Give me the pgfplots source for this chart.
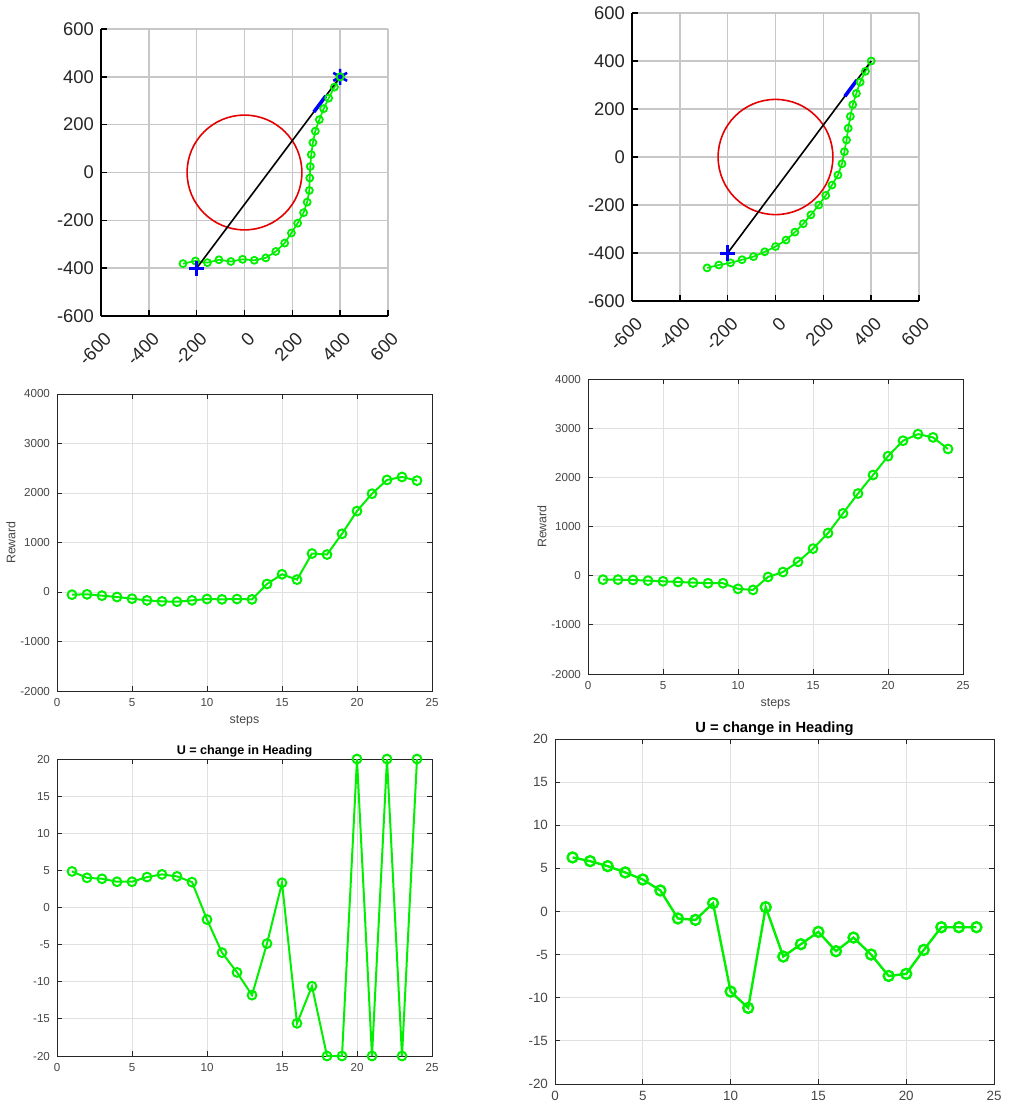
\documentclass[border=0pt]{standalone}
\usepackage{fontspec}
\setmainfont{Liberation Sans}
\usepackage{pgfplots}
\pgfplotsset{compat=1.18}
\definecolor{mgreen}{RGB}{0,240,0}
\definecolor{mblue}{RGB}{0,0,255}
\definecolor{mred}{RGB}{228,0,0}
\definecolor{mtxt}{RGB}{38,38,38}
\definecolor{mtxt2}{RGB}{70,70,70}

\pgfplotsset{
 trajax/.style={
  scale only axis, width=143.5pt, height=143.5pt,
  xmin=-600, xmax=600, ymin=-600, ymax=600,
  xtick={-600,-400,...,600}, ytick={-600,-400,...,600},
  axis x line*=bottom, axis y line*=left,
  axis line style={-, black, line width=1.2pt},
  grid=major, major grid style={black!22, line width=0.7pt},
  tick align=inside, major tick length=3pt,
  major tick style={black, line width=0.8pt},
  ticklabel style={font=\fontsize{9.2}{10}\selectfont, text=mtxt},
  xticklabel style={xshift=6pt, yshift=-7.5pt, rotate=45, anchor=east},
  /pgf/number format/assume math mode=true,
 },
 trajline/.style={mgreen, line width=0.85pt, mark=o, mark size=1.75pt, mark options={line width=0.9pt}},
 stepax/.style={
  scale only axis, xmin=0, xmax=25, xtick={0,5,...,25},
  grid=major, major grid style={black!12, line width=0.4pt},
  axis line style={mtxt, line width=0.45pt},
  tick align=inside, major tick length=2.5pt,
  major tick style={mtxt, line width=0.45pt},
  ticklabel style={text=mtxt2},
  /pgf/number format/assume math mode=true,
  /pgf/number format/1000 sep={}, scaled ticks=false,
  every axis title shift=0pt,
  every axis y label/.style={at={(axis description cs:-0.1227,0.5)}, rotate=90, anchor=center, font=\fontsize{6.2}{7}\selectfont, text=mtxt2},
  every axis x label/.style={at={(axis description cs:0.5,-0.1)}, anchor=center, font=\fontsize{6.2}{7}\selectfont, text=mtxt2},
 },
 smallax/.style={width=187.5pt, height=148.5pt,
  ticklabel style={font=\fontsize{5.8}{6.5}\selectfont}},
 stepline/.style={mgreen, line width=1pt, mark=o, mark size=2.2pt, mark options={line width=1pt}},
}

\begin{document}
\begin{tikzpicture}
\useasboundingbox (0,0) rectangle (504pt,-556pt);

% ---------- Panel 1: trajectory (left)
\begin{axis}[trajax, at={(50.5pt,-158pt)}, anchor=south west]
\draw[mred, line width=0.8pt] (axis cs:0,0) circle[radius=240];
\addplot[trajline] coordinates {
(-257,-381) (-205,-370) (-155,-377) (-107,-365) (-57,-372) (-8,-363) (41,-367) (89,-357)
(131,-330) (168,-295) (196,-253) (222,-212) (247,-168) (262,-124) (271,-75) (273,-23)
(275,25) (279,75) (286,125) (296,173) (313,221) (331,267) (352,311) (376,357) (400,400)};
\addplot[black, line width=0.8pt] coordinates {(-200,-400) (400,400)};
\addplot[mblue, line width=1.8pt] coordinates {(290,253) (340,320)};
\addplot[mblue, only marks, mark=+, mark size=3.8pt, mark options={line width=1.5pt}] coordinates {(-200,-400)};
\addplot[mblue, only marks, mark=asterisk, mark size=4pt, mark options={line width=1.3pt}] coordinates {(400,400)};
\addplot[mgreen, only marks, mark=o, mark size=1.75pt, mark options={line width=0.9pt}] coordinates {(400,400)};
\end{axis}

% ---------- Panel 2: trajectory (right)
\begin{axis}[trajax, at={(316pt,-150.5pt)}, anchor=south west, height=144pt]
\draw[mred, line width=0.8pt] (axis cs:0,0) circle[radius=240];
\addplot[trajline] coordinates {
(-286,-462) (-237,-450) (-188,-441) (-140,-428) (-92,-415) (-45,-395) (0,-373) (44,-346)
(81,-313) (116,-278) (148,-241) (181,-200) (210,-160) (236,-117) (261,-75) (278,-28)
(288,22) (297,71) (304,120) (313,169) (323,218) (338,265) (354,312) (376,357) (400,400)};
\addplot[black, line width=0.8pt] coordinates {(-200,-400) (400,400)};
\addplot[mblue, line width=1.8pt] coordinates {(290,253) (340,320)};
\addplot[mblue, only marks, mark=+, mark size=3.8pt, mark options={line width=1.5pt}] coordinates {(-200,-400)};
\end{axis}

% ---------- Panel 3: reward (left)
\begin{axis}[stepax, smallax, at={(28.5pt,-345.5pt)}, anchor=south west,
  ymin=-2000, ymax=4000, ytick={-2000,-1000,...,4000}, xlabel={steps}, ylabel={Reward}]
\addplot[stepline] coordinates {
(1,-54) (2,-47) (3,-74) (4,-101) (5,-135) (6,-169) (7,-189) (8,-196) (9,-169) (10,-142)
(11,-149) (12,-142) (13,-149) (14,162) (15,358) (16,250) (17,777) (18,757) (19,1176)
(20,1635) (21,1986) (22,2264) (23,2324) (24,2250)};
\end{axis}

% ---------- Panel 4: reward (right)
\begin{axis}[stepax, smallax, at={(294pt,-337pt)}, anchor=south west, height=147.5pt,
  ymin=-2000, ymax=4000, ytick={-2000,-1000,...,4000}, xlabel={steps}, ylabel={Reward}]
\addplot[stepline] coordinates {
(1,-81) (2,-81) (3,-87) (4,-101) (5,-114) (6,-128) (7,-141) (8,-154) (9,-154) (10,-268)
(11,-289) (12,-27) (13,74) (14,282) (15,550) (16,866) (17,1268) (18,1671) (19,2047)
(20,2430) (21,2745) (22,2879) (23,2812) (24,2577)};
\end{axis}

% ---------- Panel 5: U (left)
\begin{axis}[stepax, smallax, at={(28.5pt,-528pt)}, anchor=south west,
  ymin=-20, ymax=20, ytick={-20,-15,...,20},
  title={\textbf{U = change in Heading}},
  title style={font=\fontsize{6.3}{7}\selectfont, text=black, at={(axis description cs:0.5,1)}, anchor=center, yshift=4pt}]
\addplot[stepline] coordinates {
(1,4.86) (2,4.0) (3,3.87) (4,3.47) (5,3.47) (6,4.1) (7,4.46) (8,4.19) (9,3.42) (10,-1.62)
(11,-6.08) (12,-8.74) (13,-11.8) (14,-4.86) (15,3.33) (16,-15.6) (17,-10.6) (18,-20)
(19,-20) (20,20) (21,-20) (22,20) (23,-20) (24,20)};
\end{axis}

% ---------- Panel 6: U (right)
\begin{axis}[stepax, at={(277.5pt,-542pt)}, anchor=south west, width=219.5pt, height=172.5pt,
  ticklabel style={font=\fontsize{6.7}{7.5}\selectfont},
  ymin=-20, ymax=20, ytick={-20,-15,...,20},
  title={\textbf{U = change in Heading}},
  title style={font=\fontsize{7.35}{8}\selectfont, text=black, at={(axis description cs:0.5,1)}, anchor=center, yshift=5pt}]
\addplot[mgreen, line width=1.2pt, mark=o, mark size=2.5pt, mark options={line width=1.2pt}] coordinates {
(1,6.27) (2,5.84) (3,5.26) (4,4.53) (5,3.71) (6,2.44) (7,-0.81) (8,-0.97) (9,0.97) (10,-9.28)
(11,-11.18) (12,0.50) (13,-5.22) (14,-3.79) (15,-2.36) (16,-4.60) (17,-3.02) (18,-4.99)
(19,-7.47) (20,-7.23) (21,-4.45) (22,-1.82) (23,-1.82) (24,-1.82)};
\end{axis}
\end{tikzpicture}
\end{document}
